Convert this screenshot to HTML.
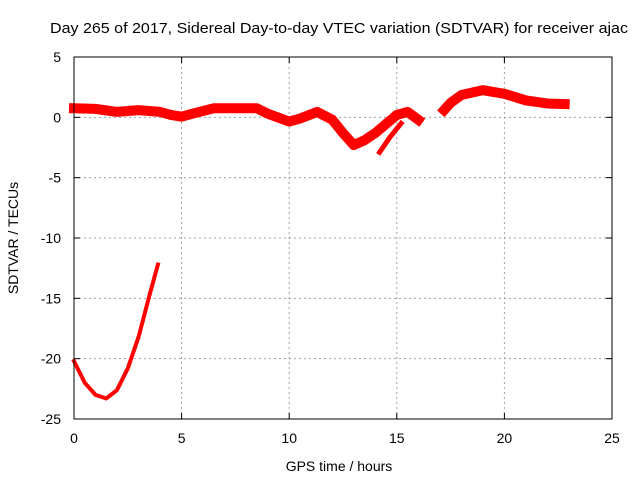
<!DOCTYPE html>
<html><head><meta charset="utf-8"><style>
body{margin:0;background:#fff}
svg{display:block;font-family:"Liberation Sans",sans-serif}
</style></head><body>
<svg id="c" width="640" height="480">
<rect width="640" height="480" fill="#fff"/>
<text x="50" y="33" font-size="15" textLength="578" lengthAdjust="spacingAndGlyphs">Day 265 of 2017, Sidereal Day-to-day VTEC variation (SDTVAR) for receiver ajac</text>
<text x="339" y="471" font-size="14" text-anchor="middle">GPS time / hours</text>
<text transform="translate(18,238) rotate(-90)" font-size="14" text-anchor="middle">SDTVAR / TECUs</text>
<g id="grid"></g><g id="ticks"></g><g id="marks"></g>
<rect x="74" y="57" width="538" height="362" fill="none" stroke="#000" stroke-width="1"/>
</svg>
<script>
const xTicks=[0,5,10,15,20,25];
const yTicks=[5,0,-5,-10,-15,-20,-25];
const mainHours=[0,1,2,3,4,4.5,5,5.5,6.5,7.5,8.5,9,10,10.5,11.3,12,12.5,13,13.5,14,15,15.5,16];
const mainValues=[0.75,0.7,0.45,0.6,0.45,0.2,0.05,0.3,0.75,0.75,0.75,0.3,-0.35,-0.1,0.45,-0.2,-1.3,-2.3,-1.9,-1.3,0.2,0.45,-0.2];
const lateHours=[17.2,17.5,18,19,20,21,22,22.8];
const lateValues=[0.6,1.2,1.85,2.25,1.95,1.4,1.15,1.1];
const branchHours=[14.2,14.7,15.2];
const branchValues=[-2.9,-1.6,-0.5];
const arcHours=[0,0.5,1,1.5,2,2.5,3,3.5,3.9];
const arcValues=[-20.2,-22.0,-23.0,-23.3,-22.6,-20.8,-18.2,-14.8,-12.2];
const NS="http://www.w3.org/2000/svg";
const sx=h=>74+h*538/25;
const sy=v=>57+(5-v)*362/30;
function mk(tag,attrs,parent){const e=document.createElementNS(NS,tag);for(const k in attrs)e.setAttribute(k,attrs[k]);document.getElementById(parent).appendChild(e);return e;}
xTicks.forEach(t=>{
  if(t>0&&t<25){const g=mk('line',{x1:sx(t),x2:sx(t),y1:57,y2:419,stroke:'#a0a0a0','stroke-dasharray':'2,3'},'grid');
  
  }
  const l=mk('text',{x:sx(t),y:443,'font-size':14,'text-anchor':'middle'},'ticks');l.textContent=t;
  
  
  mk('line',{x1:sx(t),x2:sx(t),y1:419,y2:413,stroke:'#000'},'ticks');
  mk('line',{x1:sx(t),x2:sx(t),y1:57,y2:63,stroke:'#000'},'ticks');
});
yTicks.forEach(t=>{
  if(t<5&&t>-25){const g=mk('line',{x1:74,x2:612,y1:sy(t),y2:sy(t),stroke:'#a0a0a0','stroke-dasharray':'2,3'},'grid');
  
  }
  const l=mk('text',{x:61,y:sy(t)+5,'font-size':14,'text-anchor':'end'},'ticks');l.textContent=t;
  
  
  mk('line',{x1:74,x2:80,y1:sy(t),y2:sy(t),stroke:'#000'},'ticks');
  mk('line',{x1:612,x2:606,y1:sy(t),y2:sy(t),stroke:'#000'},'ticks');
});
function series(hs,vs,w,name){
  const p=mk('polyline',{points:hs.map((h,i)=>sx(h)+','+sy(vs[i])).join(' '),fill:'none',stroke:'#f00','stroke-width':w,'stroke-linejoin':'round','stroke-linecap':'square'},'marks');
  
  
}
series(mainHours,mainValues,10,'sdtvar-main-series');
series(lateHours,lateValues,10,'sdtvar-late-series');
series(branchHours,branchValues,5,'sdtvar-branch-series');
series(arcHours,arcValues,4,'sdtvar-arc-series');
</script>
</body></html>
